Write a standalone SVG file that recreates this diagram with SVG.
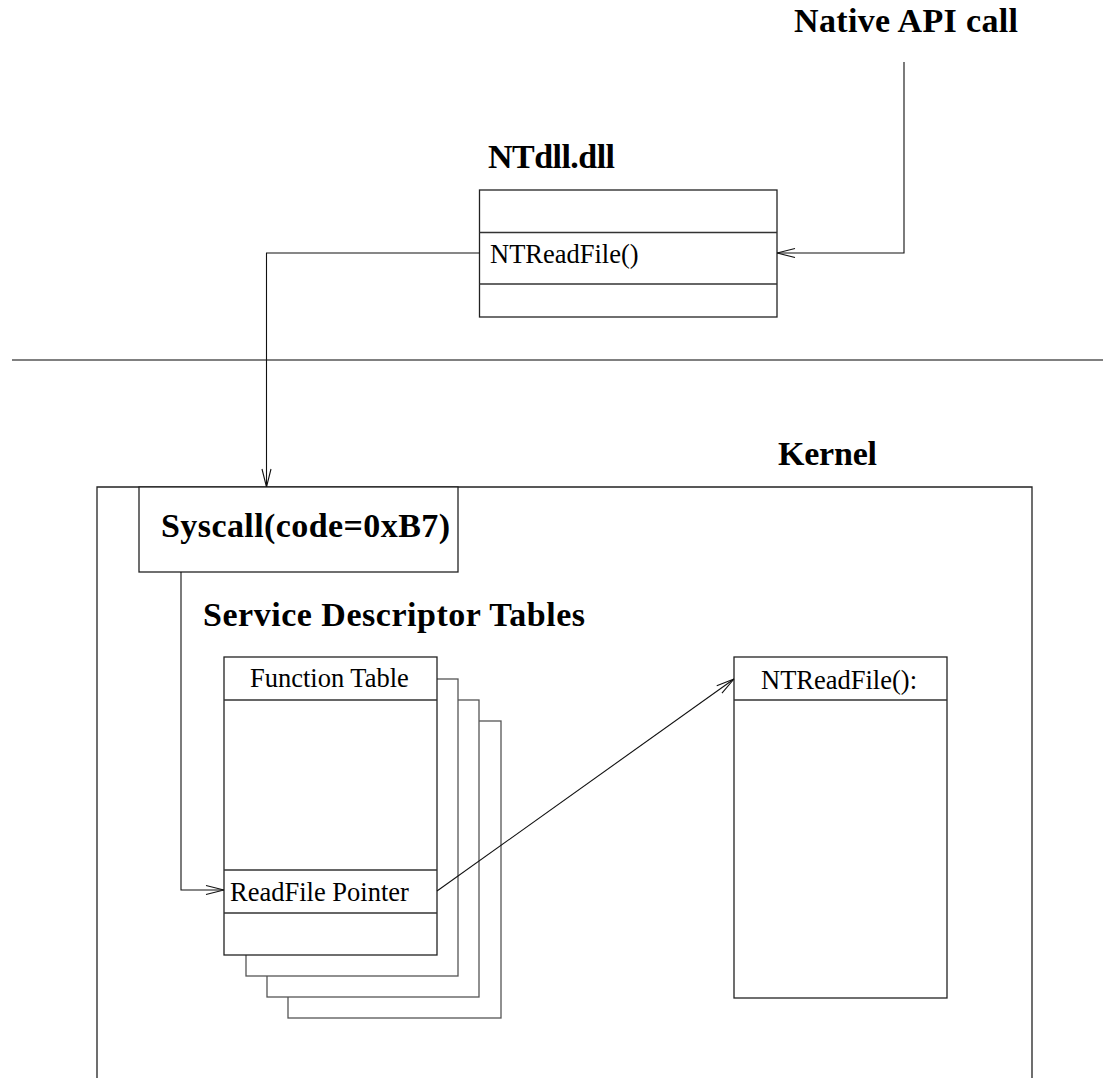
<svg xmlns="http://www.w3.org/2000/svg" width="1103" height="1078" viewBox="0 0 1103 1078">
<style>
.box{fill:#fff;stroke:#222;stroke-width:1.3}
.back{fill:#fff;stroke:#555;stroke-width:1.3}
.div{stroke:#333;stroke-width:1.3;fill:none}
.conn{fill:none;stroke:#111;stroke-width:1.1}
.h{font-family:"Liberation Serif","Times New Roman",serif;font-weight:bold;font-size:34px;fill:#000}
.t{font-family:"Liberation Serif","Times New Roman",serif;font-size:26.5px;fill:#000}
</style>
<defs>
<marker id="arr" viewBox="0 0 20 12" refX="20" refY="6" markerWidth="20" markerHeight="12" markerUnits="userSpaceOnUse" orient="auto">
<path d="M2,1.5 L20,6 L2,10.5" fill="none" stroke="#111" stroke-width="1.1"/>
</marker>
</defs>
<rect width="1103" height="1078" fill="#fff"/>
<line x1="12" y1="360" x2="1103" y2="360" stroke="#808080" stroke-width="2"/>
<text class="h" x="794" y="32" textLength="224" lengthAdjust="spacing">Native API call</text>
<g id="ntdll">
<text class="h" x="488" y="168" textLength="127" lengthAdjust="spacing">NTdll.dll</text>
<rect class="box" x="479.5" y="190" width="297.5" height="127"/>
<line class="div" x1="479.5" y1="232.5" x2="777" y2="232.5"/>
<line class="div" x1="479.5" y1="284" x2="777" y2="284"/>
<text class="t" x="490" y="263">NTReadFile()</text>
</g>
<g id="kernel">
<text class="h" x="778" y="465" textLength="99" lengthAdjust="spacing">Kernel</text>
<path class="box" d="M97,1080 L97,487 L1032,487 L1032,1080" fill="none"/>
</g>
<g id="syscall">
<rect class="box" x="139" y="487" width="319" height="85"/>
<text class="h" x="161" y="537" textLength="289" lengthAdjust="spacing">Syscall(code=0xB7)</text>
</g>
<g id="sdt">
<text class="h" x="203" y="626" textLength="382" lengthAdjust="spacing">Service Descriptor Tables</text>
<rect class="back" x="288" y="721" width="213" height="297"/>
<rect class="back" x="267" y="700" width="212" height="297"/>
<rect class="back" x="246" y="679" width="212" height="297"/>
<rect class="box" x="224" y="657" width="213" height="298"/>
<line class="div" x1="224" y1="700" x2="437" y2="700"/>
<line class="div" x1="224" y1="870" x2="437" y2="870"/>
<line class="div" x1="224" y1="913" x2="437" y2="913"/>
<text class="t" x="250" y="687">Function Table</text>
<text class="t" x="230" y="901">ReadFile Pointer</text>
</g>
<g id="ntreadfile">
<rect class="box" x="734" y="657" width="213" height="341"/>
<line class="div" x1="734" y1="700" x2="947" y2="700"/>
<text class="t" x="761" y="689">NTReadFile():</text>
</g>
<g id="connectors">
<path class="conn" d="M904,62 L904,253 L777,253" marker-end="url(#arr)"/>
<path class="conn" d="M479.5,253 L266.5,253 L266.5,487" marker-end="url(#arr)"/>
<path class="conn" d="M181,572 L181,890 L224,890" marker-end="url(#arr)"/>
<path class="conn" d="M437,891 L734,679" marker-end="url(#arr)"/>
</g>
</svg>
